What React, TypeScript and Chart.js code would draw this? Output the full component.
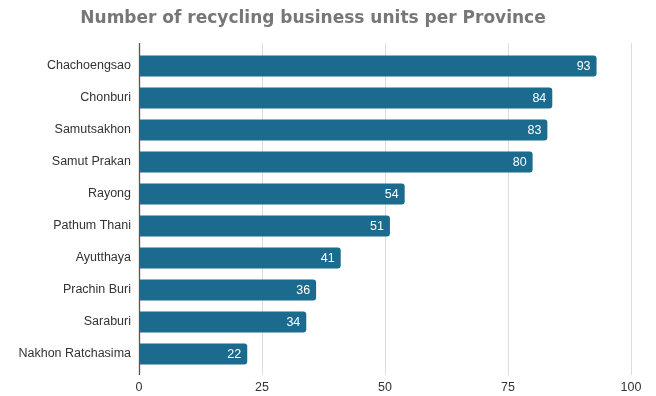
import React, { useEffect, useRef } from "react";
import { Chart, registerables } from "chart.js";

Chart.register(...registerables);

const categories = [
  "Chachoengsao",
  "Chonburi",
  "Samutsakhon",
  "Samut Prakan",
  "Rayong",
  "Pathum Thani",
  "Ayutthaya",
  "Prachin Buri",
  "Saraburi",
  "Nakhon Ratchasima",
];
const units = [93, 84, 83, 80, 54, 51, 41, 36, 34, 22];
const xTicks = [0, 25, 50, 75, 100];
const titleText = "Number of recycling business units per Province";

const BAR_COLOR = "#1a6b8e";

const gridPlugin = {
  id: "customGrid",
  beforeDatasetsDraw(chart: any) {
    const { ctx, chartArea, scales } = chart;
    const x = scales.x;
    ctx.save();
    xTicks.forEach((v) => {
      const px = Math.round(x.getPixelForValue(v)) + 0.5;
      ctx.beginPath();
      ctx.strokeStyle = v === 0 ? "#555555" : "#dddddd";
      ctx.lineWidth = v === 0 ? 1.3 : 1;
      ctx.moveTo(px, chartArea.top - 7);
      ctx.lineTo(px, chartArea.bottom + 5);
      ctx.stroke();
    });
    ctx.restore();
  },
  afterDatasetsDraw(chart: any) {
    const { ctx } = chart;
    const meta = chart.getDatasetMeta(0);
    ctx.save();
    ctx.fillStyle = "#ffffff";
    ctx.font = "12.5px 'Liberation Sans', Arial, sans-serif";
    ctx.textAlign = "right";
    ctx.textBaseline = "middle";
    meta.data.forEach((bar: any, i: number) => {
      ctx.fillText(String(units[i]), bar.x - 6, bar.y + 1);
    });
    ctx.fillStyle = "#777777";
    ctx.font = "bold 17px 'DejaVu Sans', Verdana, sans-serif";
    ctx.textAlign = "center";
    ctx.textBaseline = "middle";
    ctx.fillText(titleText, 313, 19);
    ctx.restore();
  },
};

export default function App() {
  const ref = useRef<HTMLCanvasElement>(null);
  useEffect(() => {
    if (!ref.current) return;
    const chart = new Chart(ref.current, {
      type: "bar",
      data: {
        labels: categories,
        datasets: [
          {
            data: units,
            backgroundColor: BAR_COLOR,
            borderRadius: 3,
            borderSkipped: "start",
            categoryPercentage: 1,
            barPercentage: 0.66,
          },
        ],
      },
      options: {
        indexAxis: "y",
        responsive: false,
        animation: false,
        layout: { padding: { top: 50, right: 25, left: 0, bottom: 0 } },
        plugins: {
          legend: { display: false },
          title: { display: false },
          tooltip: { enabled: false },
        },
        scales: {
          x: {
            min: 0,
            max: 100,
            ticks: {
              stepSize: 25,
              padding: 10,
              color: "#333333",
              font: { family: "'Liberation Sans', Arial, sans-serif", size: 12.5 },
            },
            grid: { display: false, drawTicks: false },
            border: { display: false },
            afterFit(scale: any) {
              scale.height = 26;
            },
          },
          y: {
            ticks: {
              padding: 8,
              color: "#333333",
              font: { family: "'Liberation Sans', Arial, sans-serif", size: 12.5 },
            },
            grid: { display: false, drawTicks: false },
            border: { display: false },
            afterFit(scale: any) {
              scale.width = 139;
            },
          },
        },
      },
      plugins: [gridPlugin],
    });
    return () => chart.destroy();
  }, []);
  return (
    <div style={{ position: "fixed", left: 0, top: 0, width: 656, height: 396 }}>
      <canvas ref={ref} width={656} height={396} style={{ display: "block" }} />
    </div>
  );
}
